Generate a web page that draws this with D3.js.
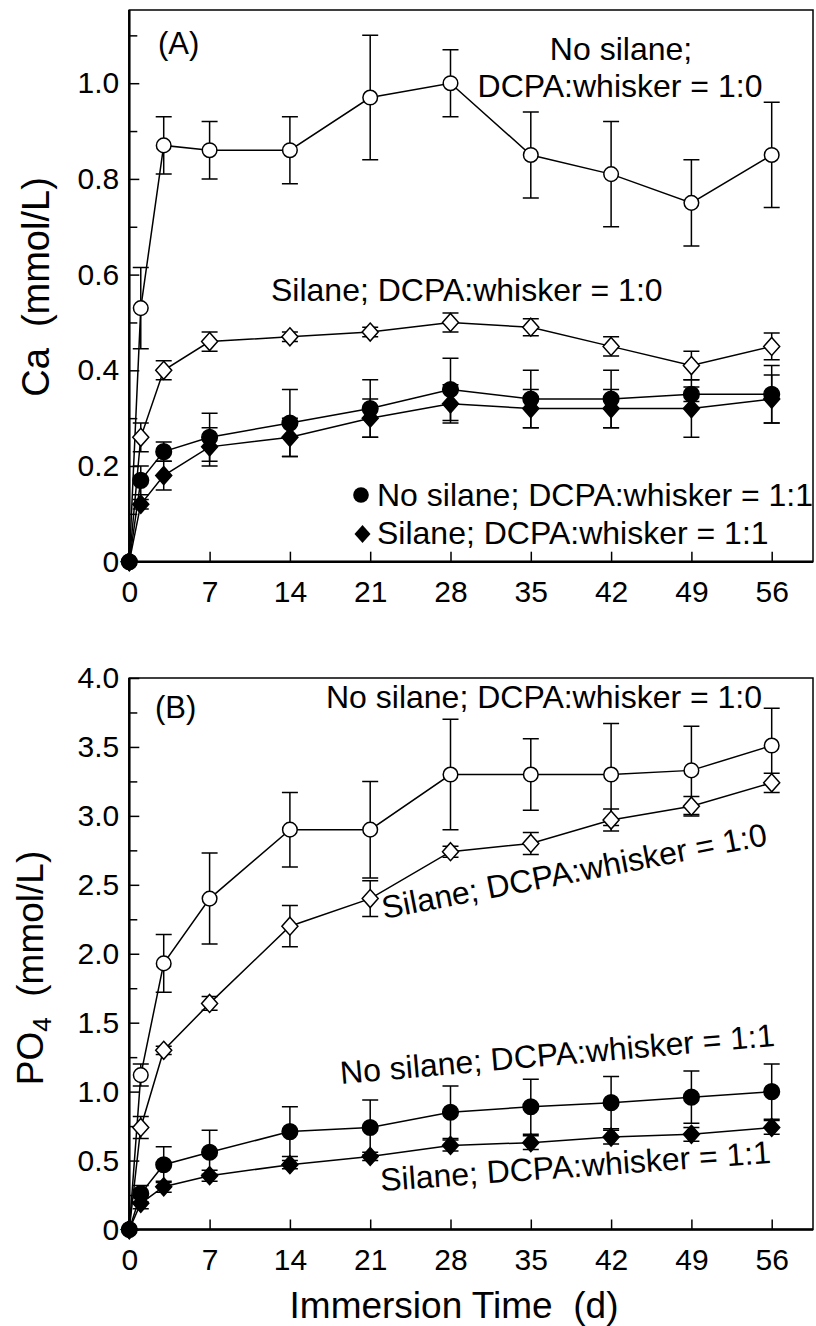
<!DOCTYPE html>
<html>
<head>
<meta charset="utf-8">
<script src="https://cdn.jsdelivr.net/npm/d3@7"></script>
<style>
  body { margin: 0; background: #fff; }
  svg { display: block; font-family: "Liberation Sans", Arial, sans-serif; }
  .tick text { fill: #000; }
</style>
</head>
<body>
<script>
// Immersion time (days)
const days = [0, 1, 3, 7, 14, 21, 28, 35, 42, 49, 56];
const xTicks = [0, 7, 14, 21, 28, 35, 42, 49, 56];

// (A) Ca release, mmol/L
const caNoSilane10 = [0, 0.53, 0.87, 0.86, 0.86, 0.97, 1.0, 0.85, 0.81, 0.75, 0.85];
const caNoSilane10Err = [0, 0.085, 0.06, 0.06, 0.07, 0.13, 0.07, 0.09, 0.11, 0.09, 0.11];
const caSilane10 = [0, 0.26, 0.4, 0.46, 0.47, 0.48, 0.5, 0.49, 0.45, 0.41, 0.45];
const caSilane10Err = [0, 0.03, 0.02, 0.02, 0.01, 0.01, 0.02, 0.018, 0.02, 0.03, 0.028];
const caNoSilane11 = [0, 0.17, 0.23, 0.26, 0.29, 0.32, 0.36, 0.34, 0.34, 0.35, 0.35];
const caNoSilane11Err = [0, 0.03, 0.02, 0.05, 0.07, 0.06, 0.065, 0.06, 0.06, 0.015, 0.06];
const caSilane11 = [0, 0.12, 0.18, 0.24, 0.26, 0.3, 0.33, 0.32, 0.32, 0.32, 0.34];
const caSilane11Err = [0, 0.01, 0.03, 0.04, 0.04, 0.04, 0.04, 0.04, 0.04, 0.06, 0.05];
const caTicks = [0, 0.2, 0.4, 0.6, 0.8, 1.0];
const caMinorTicks = [0.1, 0.3, 0.5, 0.7, 0.9, 1.1];

// (B) PO4 release, mmol/L
const po4NoSilane10 = [0, 1.12, 1.93, 2.4, 2.9, 2.9, 3.3, 3.3, 3.3, 3.33, 3.51];
const po4NoSilane10Err = [0, 0.08, 0.21, 0.33, 0.27, 0.35, 0.4, 0.26, 0.37, 0.32, 0.27];
const po4Silane10 = [0, 0.74, 1.3, 1.64, 2.2, 2.4, 2.74, 2.8, 2.97, 3.07, 3.24];
const po4Silane10Err = [0, 0.08, 0.03, 0.05, 0.15, 0.13, 0.04, 0.08, 0.08, 0.07, 0.07];
const po4NoSilane11 = [0, 0.26, 0.47, 0.56, 0.71, 0.74, 0.85, 0.89, 0.92, 0.96, 1.0];
const po4NoSilane11Err = [0, 0.06, 0.13, 0.16, 0.18, 0.2, 0.19, 0.2, 0.19, 0.19, 0.2];
const po4Silane11 = [0, 0.19, 0.31, 0.39, 0.47, 0.53, 0.61, 0.63, 0.67, 0.69, 0.74];
const po4Silane11Err = [0, 0.04, 0.04, 0.04, 0.03, 0.03, 0.04, 0.05, 0.05, 0.05, 0.05];
const po4Ticks = [0, 0.5, 1.0, 1.5, 2.0, 2.5, 3.0, 3.5, 4.0];
const po4MinorTicks = [0.25, 0.75, 1.25, 1.75, 2.25, 2.75, 3.25, 3.75];

// Labels
const labelNoSilane10 = "No silane; DCPA:whisker = 1:0";
const labelSilane10 = "Silane; DCPA:whisker = 1:0";
const labelNoSilane11 = "No silane; DCPA:whisker = 1:1";
const labelSilane11 = "Silane; DCPA:whisker = 1:1";

const width = 816;
const height = 1326;

const svg = d3
  .select("body")
  .append("svg")
  .attr("width", width)
  .attr("height", height);

const x = d3.scaleLinear().domain([0, 59.6]).range([129.3, 813]);

// Marker drawing: circle or diamond, open or filled
function drawMarkers(g, y, values, shape, filled) {
  const pts = days.map((d, i) => [x(d), y(values[i])]);
  const fill = filled ? "#000" : "#fff";
  if (shape === "circle") {
    g.selectAll(null)
      .data(pts)
      .join("circle")
      .attr("cx", (d) => d[0])
      .attr("cy", (d) => d[1])
      .attr("r", filled ? 7.8 : 7.3)
      .attr("fill", fill)
      .attr("stroke", "#000")
      .attr("stroke-width", 1.5);
  } else {
    g.selectAll(null)
      .data(pts)
      .join("path")
      .attr("d", (d) => diamondPath(d[0], d[1]))
      .attr("fill", fill)
      .attr("stroke", "#000")
      .attr("stroke-width", 1.5)
      .attr("stroke-linejoin", "miter");
  }
}

function diamondPath(cx, cy) {
  const w = 8, h = 9;
  return `M${cx},${cy - h}L${cx + w},${cy}L${cx},${cy + h}L${cx - w},${cy}Z`;
}

function drawLine(g, y, values) {
  const line = d3
    .line()
    .x((d, i) => x(days[i]))
    .y((d) => y(d));
  g.append("path")
    .attr("d", line(values))
    .attr("fill", "none")
    .attr("stroke", "#000")
    .attr("stroke-width", 1.5);
}

function drawErrors(g, y, values, errs) {
  const cap = 8;
  days.forEach((d, i) => {
    if (!errs[i]) return;
    const cx = x(d);
    const y0 = y(values[i] - errs[i]);
    const y1 = y(values[i] + errs[i]);
    g.append("path")
      .attr(
        "d",
        `M${cx},${y0}L${cx},${y1}M${cx - cap},${y1}L${cx + cap},${y1}M${cx - cap},${y0}L${cx + cap},${y0}`
      )
      .attr("fill", "none")
      .attr("stroke", "#000")
      .attr("stroke-width", 1.5);
  });
}

function drawPanel(opts) {
  const { y, series, ticks, minorTicks, top, bottom } = opts;
  const g = svg.append("g");

  // frame
  g.append("rect")
    .attr("x", x.range()[0])
    .attr("y", top)
    .attr("width", x.range()[1] - x.range()[0])
    .attr("height", bottom - top)
    .attr("fill", "none")
    .attr("stroke", "#000")
    .attr("stroke-width", 1.5);

  // x axis (ticks inward)
  g.append("g")
    .attr("transform", `translate(0,${bottom})`)
    .call(
      d3.axisBottom(x).tickValues(xTicks).tickSizeInner(-10).tickSizeOuter(0).tickPadding(19)
    )
    .call((a) => a.select(".domain").remove())
    .call((a) => a.selectAll("line").attr("stroke-width", 1.5))
    .call((a) => a.selectAll("text").attr("font-size", 30).attr("font-family", null));

  // y axis
  g.append("g")
    .attr("transform", `translate(${x.range()[0]},0)`)
    .call(
      d3
        .axisLeft(y)
        .tickValues(ticks)
        .tickFormat((d) => (d === 0 ? "0" : d.toFixed(1)))
        .tickSizeInner(-10)
        .tickSizeOuter(0)
        .tickPadding(10)
    )
    .call((a) => a.select(".domain").remove())
    .call((a) => a.selectAll("line").attr("stroke-width", 1.5))
    .call((a) => a.selectAll("text").attr("font-size", 30).attr("font-family", null));

  g.append("g")
    .attr("transform", `translate(${x.range()[0]},0)`)
    .call(d3.axisLeft(y).tickValues(minorTicks).tickFormat("").tickSizeInner(-8).tickSizeOuter(0))
    .call((a) => a.select(".domain").remove())
    .call((a) => a.selectAll("line").attr("stroke-width", 1.5));

  // heavier left and bottom axis lines
  g.append("path")
    .attr("d", `M${x.range()[0]},${top}L${x.range()[0]},${bottom}L${x.range()[1]},${bottom}`)
    .attr("fill", "none")
    .attr("stroke", "#000")
    .attr("stroke-width", 2.5);

  const gLines = g.append("g");
  const gErr = g.append("g");
  const gMarks = g.append("g");
  series.forEach((s) => {
    drawLine(gLines, y, s.values);
    drawErrors(gErr, y, s.values, s.errs);
    drawMarkers(gMarks, y, s.values, s.shape, s.filled);
  });
  return g;
}

// Panel A
const yA = d3.scaleLinear().domain([0, 1.153]).range([561.7, 10]);
const gA = drawPanel({
  y: yA,
  top: 10,
  bottom: 561.7,
  ticks: caTicks,
  minorTicks: caMinorTicks,
  series: [
    { values: caNoSilane10, errs: caNoSilane10Err, shape: "circle", filled: false },
    { values: caSilane10, errs: caSilane10Err, shape: "diamond", filled: false },
    { values: caNoSilane11, errs: caNoSilane11Err, shape: "circle", filled: true },
    { values: caSilane11, errs: caSilane11Err, shape: "diamond", filled: true },
  ],
});

// Panel B
const yB = d3.scaleLinear().domain([0, 4]).range([1229.5, 678]);
const gB = drawPanel({
  y: yB,
  top: 678,
  bottom: 1229.5,
  ticks: po4Ticks,
  minorTicks: po4MinorTicks,
  series: [
    { values: po4NoSilane10, errs: po4NoSilane10Err, shape: "circle", filled: false },
    { values: po4Silane10, errs: po4Silane10Err, shape: "diamond", filled: false },
    { values: po4NoSilane11, errs: po4NoSilane11Err, shape: "circle", filled: true },
    { values: po4Silane11, errs: po4Silane11Err, shape: "diamond", filled: true },
  ],
});

// Texts
function label(g, text, px, py, opts = {}) {
  return g
    .append("text")
    .attr("transform", `translate(${px},${py}) rotate(${opts.angle || 0})`)
    .attr("text-anchor", opts.anchor || "start")
    .attr("font-size", opts.size || 32)
    .attr("fill", "#000")
    .text(text);
}

// Panel A annotations
label(gA, "(A)", 158, 54, { size: 31 });
label(gA, "No silane;", 621, 60, { anchor: "middle" });
label(gA, labelNoSilane10.replace("No silane; ", ""), 620, 97, { anchor: "middle" });
label(gA, labelSilane10, 271, 301);

// Legend in panel A
const legend = gA.append("g");
legend.append("circle").attr("cx", 361).attr("cy", 495).attr("r", 7.8).attr("fill", "#000");
legend.append("path").attr("d", diamondPath(362.5, 534)).attr("fill", "#000");
label(legend, labelNoSilane11, 377, 506);
label(legend, labelSilane11, 377, 544);

// Panel B annotations
label(gB, "(B)", 155, 718, { size: 31 });
label(gB, labelNoSilane10, 326, 708);
label(gB, labelSilane10, 384, 919, { angle: -10.9 });
label(gB, labelNoSilane11, 341, 1084, { angle: -5.0 });
label(gB, labelSilane11, 381, 1191, { angle: -4.1 });

// Axis titles
svg.append("text")
  .attr("transform", "translate(49,287) rotate(-90)")
  .attr("text-anchor", "middle")
  .attr("font-size", 38)
  .attr("xml:space", "preserve")
  .text("Ca  (mmol/L)");

const po4Title = svg.append("text")
  .attr("transform", "translate(43,968) rotate(-90)")
  .attr("text-anchor", "middle")
  .attr("font-size", 37)
  .attr("xml:space", "preserve");
po4Title.append("tspan").text("PO");
po4Title.append("tspan").attr("font-size", 26).attr("dy", 8).text("4");
po4Title.append("tspan").attr("dy", -8).text("  (mmol/L)");

svg.append("text")
  .attr("x", 454)
  .attr("y", 1318)
  .attr("text-anchor", "middle")
  .attr("font-size", 37)
  .attr("xml:space", "preserve")
  .text("Immersion Time  (d)");
</script>
</body>
</html>
